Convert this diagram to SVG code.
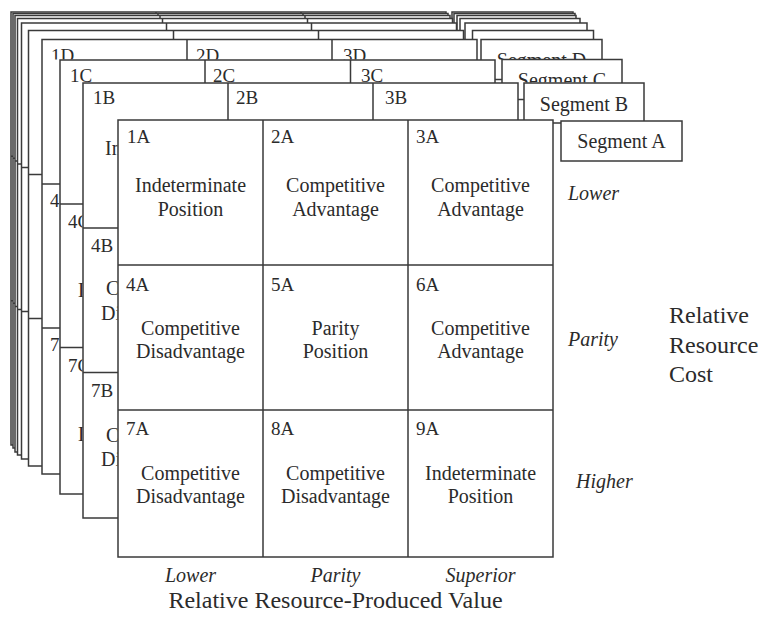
<svg xmlns="http://www.w3.org/2000/svg" width="761" height="622" viewBox="0 0 761 622">
<style>
.box{fill:#fff;stroke:#3a3a3a;stroke-width:1.5}
.ln{stroke:#3a3a3a;stroke-width:1.5;fill:none}
text{font-family:"Liberation Serif","Times New Roman",serif;fill:#2b2b2b}
.lb{font-size:19px}
.ct{font-size:20px;text-anchor:middle}
.cs{font-size:20px}
.st{font-size:20px;text-anchor:middle}
.ax{font-size:20px;font-style:italic}
.ti{font-size:24px}
</style>
<defs>
<clipPath id="clipDtop"><rect x="42" y="39" width="440" height="20.5"/></clipPath>
<clipPath id="clipDleft"><rect x="42" y="180" width="17.5" height="300"/></clipPath>
<clipPath id="clipSegD"><rect x="481" y="39" width="122" height="20.5"/></clipPath>
<clipPath id="clipCtop"><rect x="60" y="59" width="440" height="23.5"/></clipPath>
<clipPath id="clipCleft"><rect x="60" y="200" width="22.5" height="300"/></clipPath>
<clipPath id="clipSegC"><rect x="502" y="59" width="121" height="23.5"/></clipPath>
<clipPath id="clipBleft"><rect x="83" y="120" width="34.5" height="400"/></clipPath>
</defs>
<rect width="761" height="622" fill="#fff"/>

<g id="layer-J">
<rect class="box" x="452" y="12" width="121" height="40"/>
<rect class="box" x="11" y="12" width="435" height="433"/>
<path class="ln" d="M156 12V445M301 12V445M11 156.3H446M11 300.7H446"/>
</g>
<g id="layer-I">
<rect class="box" x="454" y="13.5" width="121" height="40"/>
<rect class="box" x="13" y="13.5" width="435" height="434.5"/>
<path class="ln" d="M158 13.5V448M303 13.5V448M13 158.3H448M13 303.2H448"/>
</g>
<g id="layer-H">
<rect class="box" x="457" y="15.5" width="119" height="40"/>
<rect class="box" x="15" y="15.5" width="435" height="436.5"/>
<path class="ln" d="M160 15.5V452M305 15.5V452M15 161H450M15 306.5H450"/>
</g>
<g id="layer-G">
<rect class="box" x="460" y="18.5" width="120" height="40"/>
<rect class="box" x="17.5" y="18.5" width="435" height="436.5"/>
<path class="ln" d="M162.5 18.5V455M307.5 18.5V455M17.5 164H452.5M17.5 309.5H452.5"/>
</g>
<g id="layer-F">
<rect class="box" x="465" y="23" width="122" height="40"/>
<rect class="box" x="21.5" y="23" width="435" height="436"/>
<path class="ln" d="M166.5 23V459M311.5 23V459M21.5 167.5H456.5M21.5 311.5H456.5"/>
</g>
<g id="layer-E">
<rect class="box" x="472.5" y="30.5" width="121" height="40"/>
<rect class="box" x="28.5" y="30.5" width="435" height="435.5"/>
<path class="ln" d="M173.5 30.5V466M318.5 30.5V466M28.5 174.5H463.5M28.5 318.5H463.5"/>
</g>

<g id="layer-D">
<rect class="box" x="481" y="39.5" width="121" height="40"/>
<text class="st" x="541.5" y="67" clip-path="url(#clipSegD)">Segment D</text>
<rect class="box" x="42" y="39.5" width="435" height="434.5"/>
<path class="ln" d="M187 39.5V474M332 39.5V474M42 184H477M42 328H477"/>
<g clip-path="url(#clipDtop)">
<text class="lb" x="51" y="62">1D</text>
<text class="lb" x="196" y="62">2D</text>
<text class="lb" x="343" y="62">3D</text>
</g>
<g clip-path="url(#clipDleft)">
<text class="lb" x="50" y="207">4D</text>
<text class="lb" x="50" y="351">7D</text>
</g>
</g>

<g id="layer-C">
<rect class="box" x="502" y="59.5" width="120" height="40"/>
<text class="st" x="562" y="87" clip-path="url(#clipSegC)">Segment C</text>
<rect class="box" x="60" y="60" width="435" height="434"/>
<path class="ln" d="M205 60V494M350.5 60V494M60 204H495M60 347.5H495"/>
<g clip-path="url(#clipCtop)">
<text class="lb" x="70" y="82">1C</text>
<text class="lb" x="213" y="82">2C</text>
<text class="lb" x="361" y="82">3C</text>
</g>
<g clip-path="url(#clipCleft)">
<text class="lb" x="68" y="228">4C</text>
<text class="lb" x="68" y="372">7C</text>
<text class="cs" x="78" y="297">D</text>
<text class="cs" x="78" y="441">D</text>
</g>
</g>

<g id="layer-B">
<rect class="box" x="524" y="83" width="120" height="40"/>
<text class="st" x="584" y="111">Segment B</text>
<rect class="box" x="83" y="83" width="435" height="435"/>
<path class="ln" d="M228 83V518M373 83V518M83 228H518M83 372.5H518"/>
<text class="lb" x="93" y="104">1B</text>
<text class="lb" x="236" y="104">2B</text>
<text class="lb" x="385" y="104">3B</text>
<text class="lb" x="91" y="252">4B</text>
<text class="lb" x="91" y="397">7B</text>
<g clip-path="url(#clipBleft)">
<text class="cs" x="105" y="155">In</text>
<text class="cs" x="106" y="295">C</text>
<text class="cs" x="101" y="320">Di</text>
<text class="cs" x="106" y="442">C</text>
<text class="cs" x="101" y="466">Di</text>
</g>
</g>

<g id="layer-A">
<rect class="box" x="561" y="121" width="121" height="40"/>
<text class="st" x="621.5" y="148">Segment A</text>
<rect class="box" x="118" y="120" width="435" height="437"/>
<path class="ln" d="M263 120V557M408 120V557M118 265H553M118 410H553"/>
</g>
<g id="cell-1A"><text class="lb" x="127" y="143">1A</text><text class="ct" x="190.5" y="192">Indeterminate</text><text class="ct" x="190.5" y="216">Position</text></g>
<g id="cell-2A"><text class="lb" x="271" y="143">2A</text><text class="ct" x="335.5" y="192">Competitive</text><text class="ct" x="335.5" y="216">Advantage</text></g>
<g id="cell-3A"><text class="lb" x="416" y="143">3A</text><text class="ct" x="480.5" y="192">Competitive</text><text class="ct" x="480.5" y="216">Advantage</text></g>
<g id="cell-4A"><text class="lb" x="126" y="291">4A</text><text class="ct" x="190.5" y="335">Competitive</text><text class="ct" x="190.5" y="358">Disadvantage</text></g>
<g id="cell-5A"><text class="lb" x="271" y="291">5A</text><text class="ct" x="335.5" y="335">Parity</text><text class="ct" x="335.5" y="358">Position</text></g>
<g id="cell-6A"><text class="lb" x="416" y="291">6A</text><text class="ct" x="480.5" y="335">Competitive</text><text class="ct" x="480.5" y="358">Advantage</text></g>
<g id="cell-7A"><text class="lb" x="126" y="435">7A</text><text class="ct" x="190.5" y="480">Competitive</text><text class="ct" x="190.5" y="503">Disadvantage</text></g>
<g id="cell-8A"><text class="lb" x="271" y="435">8A</text><text class="ct" x="335.5" y="480">Competitive</text><text class="ct" x="335.5" y="503">Disadvantage</text></g>
<g id="cell-9A"><text class="lb" x="416" y="435">9A</text><text class="ct" x="480.5" y="480">Indeterminate</text><text class="ct" x="480.5" y="503">Position</text></g>

<g id="axis-labels">
<text class="ax" x="568" y="200">Lower</text>
<text class="ax" x="568" y="346">Parity</text>
<text class="ax" x="576" y="488">Higher</text>
<text class="ti" x="669" y="323">Relative</text>
<text class="ti" x="669" y="353">Resource</text>
<text class="ti" x="669" y="382">Cost</text>
<text class="ax" x="190.5" y="582" text-anchor="middle">Lower</text>
<text class="ax" x="335.5" y="582" text-anchor="middle">Parity</text>
<text class="ax" x="480.5" y="582" text-anchor="middle">Superior</text>
<text class="ti" x="335.5" y="608" text-anchor="middle">Relative Resource-Produced Value</text>
</g>
</svg>
